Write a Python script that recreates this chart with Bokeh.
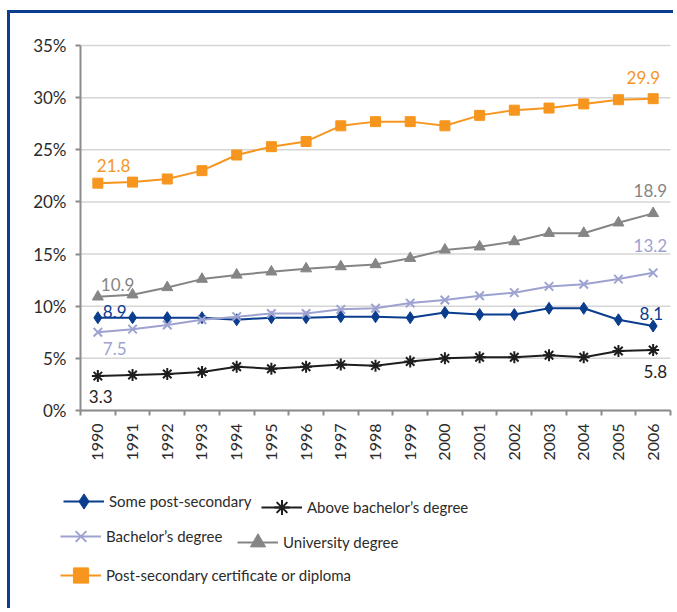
import math
from bokeh.plotting import figure
from bokeh.models import FixedTicker, PrintfTickFormatter, Legend, LegendItem, Label, Range1d
from bokeh.embed import file_html
from bokeh.resources import INLINE

# ---- data ----
years = list(range(1990, 2007))
some_post_secondary = [8.9, 8.9, 8.9, 8.9, 8.7, 8.9, 8.9, 9.0, 9.0, 8.9, 9.4, 9.2, 9.2, 9.8, 9.8, 8.7, 8.1]
above_bachelors = [3.3, 3.4, 3.5, 3.7, 4.2, 4.0, 4.2, 4.4, 4.3, 4.7, 5.0, 5.1, 5.1, 5.3, 5.1, 5.7, 5.8]
bachelors = [7.5, 7.8, 8.2, 8.7, 9.0, 9.3, 9.3, 9.7, 9.8, 10.3, 10.6, 11.0, 11.3, 11.9, 12.1, 12.6, 13.2]
university = [10.9, 11.1, 11.8, 12.6, 13.0, 13.3, 13.6, 13.8, 14.0, 14.6, 15.4, 15.7, 16.2, 17.0, 17.0, 18.0, 18.9]
certificate = [21.8, 21.9, 22.2, 23.0, 24.5, 25.3, 25.8, 27.3, 27.7, 27.7, 27.3, 28.3, 28.8, 29.0, 29.4, 29.8, 29.9]
y_ticks = [0, 5, 10, 15, 20, 25, 30, 35]

names = {
    "some": "Some post-secondary",
    "above": "Above bachelor\u2019s degree",
    "bach": "Bachelor\u2019s degree",
    "univ": "University degree",
    "cert": "Post-secondary certificate or diploma",
}

BLUE = "#0b3d8f"
BLACK = "#1e1e1e"
LILAC = "#9da2d0"
GREY = "#858585"
ORANGE = "#f7961f"
AXIS = "#8c8c8c"
FRAME_BLUE = "#0b3d91"
FONT = "Lato"

# ---- layout (page pixels) ----
CX0, CY0 = 10, 13          # canvas origin on the page (after margin + border)
W, H = 666, 598            # canvas size
AX_L, AX_R = 80, 670       # plotting area left/right
Y_TOP, Y_ZERO = 45, 410    # 35% and 0% lines

x_lo, x_hi = years[0] - 0.5, years[-1] + 0.5
y_lo, y_hi = y_ticks[0], y_ticks[-1]
xpp = (x_hi - x_lo) / (AX_R - AX_L)
ypp = (y_hi - y_lo) / (Y_ZERO - Y_TOP)
x_range = Range1d(x_lo - (AX_L - CX0) * xpp, x_hi + (CX0 + W - AX_R) * xpp)
y_range = Range1d(y_lo - (CY0 + H - Y_ZERO) * ypp, y_hi + (Y_TOP - CY0) * ypp)

p = figure(width=W, height=H, x_range=x_range, y_range=y_range,
           output_backend="svg", toolbar_location=None,
           min_border_left=0, min_border_right=0,
           min_border_top=0, min_border_bottom=0)
p.styles = {"margin-left": "7px", "margin-top": "10px",
            "border-left": f"3px solid {FRAME_BLUE}", "border-top": f"3px solid {FRAME_BLUE}"}
p.outline_line_color = None
p.background_fill_color = "white"
p.border_fill_color = "white"
p.xgrid.visible = False
p.ygrid.visible = False

# horizontal gridlines across the category span
p.segment(x0=[x_lo] * len(y_ticks), x1=[x_hi] * len(y_ticks), y0=y_ticks, y1=y_ticks,
          line_color="#d6d6d6", line_width=1.5)

# axes
p.yaxis.fixed_location = x_lo
p.yaxis.bounds = (y_lo, y_hi)
p.yaxis.ticker = FixedTicker(ticks=y_ticks)
p.yaxis.formatter = PrintfTickFormatter(format="%d%%")
p.yaxis.axis_line_color = AXIS
p.yaxis.axis_line_width = 2
p.yaxis.major_tick_line_color = AXIS
p.yaxis.major_tick_line_width = 2
p.yaxis.major_tick_out = 5
p.yaxis.major_tick_in = 0
p.yaxis.minor_tick_line_color = None
p.yaxis.major_label_text_font = FONT
p.yaxis.major_label_text_font_size = "17px"
p.yaxis.major_label_text_color = "#2b2b2b"
p.yaxis.major_label_standoff = 9

bounds = [y - 0.5 for y in years] + [years[-1] + 0.5]
p.xaxis.fixed_location = y_lo
p.xaxis.bounds = (x_lo, x_hi)
p.xaxis.ticker = FixedTicker(ticks=years, minor_ticks=bounds)
p.xaxis.major_label_overrides = {y: str(y) for y in years}
p.xaxis.axis_line_color = AXIS
p.xaxis.axis_line_width = 2
p.xaxis.major_tick_line_color = None
p.xaxis.major_tick_out = 0
p.xaxis.major_tick_in = 0
p.xaxis.minor_tick_line_color = AXIS
p.xaxis.minor_tick_line_width = 2
p.xaxis.minor_tick_out = 5
p.xaxis.minor_tick_in = 0
p.xaxis.major_label_orientation = math.pi / 2
p.xaxis.major_label_text_font = FONT
p.xaxis.major_label_text_font_size = "16px"
p.xaxis.major_label_text_color = "#2b2b2b"
p.xaxis.major_label_standoff = 8

# series
series = [
    ("some", some_post_secondary, BLUE, "diamond", 12, 2),
    ("above", above_bachelors, BLACK, "asterisk", 12, 2),
    ("bach", bachelors, LILAC, "x", 12, 2),
    ("univ", university, GREY, "triangle", 11, 2),
    ("cert", certificate, ORANGE, "square", 10, 2),
]
rends = {}
for key, vals, col, mk, sz, lw in series:
    ln = p.line(years, vals, line_color=col, line_width=lw)
    if mk in ("x", "asterisk"):
        sc = p.scatter(years, vals, marker=mk, size=sz, line_color=col, line_width=2)
    else:
        sc = p.scatter(years, vals, marker=mk, size=sz, fill_color=col, line_color=col)
    rends[key] = [ln, sc]

# legends (one per item, placed individually; (left, glyph centre) in page pixels)
legend_at = {
    "some": (63, 501),
    "above": (261, 507),
    "bach": (60, 536),
    "univ": (237, 542),
    "cert": (60, 575),
}
GH = 38
for key in ["some", "above", "bach", "univ", "cert"]:
    gx, gy = legend_at[key]
    leg = Legend(items=[LegendItem(label=names[key], renderers=rends[key])],
                 location=(gx - CX0, (CY0 + H) - (gy + GH / 2)), orientation="horizontal",
                 padding=0, margin=0, border_line_color=None,
                 background_fill_alpha=0, glyph_width=41, glyph_height=GH,
                 label_standoff=5, label_text_font=FONT, label_height=GH,
                 label_text_font_size="15px", label_text_color="#2b2b2b")
    p.add_layout(leg)

# data labels
def lab(x, y, xo, yo, align, col):
    p.add_layout(Label(x=x, y=y, text=f"{y:.1f}", x_offset=xo, y_offset=yo,
                       text_align=align, text_baseline="middle", text_color=col,
                       text_font=FONT, text_font_size="17px"))

lab(years[0], certificate[0], -1, 18, "left", ORANGE)
lab(years[-1], certificate[-1], 7, 21, "right", ORANGE)
lab(years[-1], university[-1], 14, 23, "right", GREY)
lab(years[0], university[0], 3, 12, "left", GREY)
lab(years[-1], bachelors[-1], 14, 27, "right", LILAC)
lab(years[0], bachelors[0], 5, -16, "left", LILAC)
lab(years[0], some_post_secondary[0], 5, 6, "left", BLUE)
lab(years[-1], some_post_secondary[-1], 10, 13, "right", BLUE)
lab(years[0], above_bachelors[0], -9, -20, "left", BLACK)
lab(years[-1], above_bachelors[-1], 14, -21, "right", BLACK)

open("out.html", "w").write(file_html(p, INLINE))
